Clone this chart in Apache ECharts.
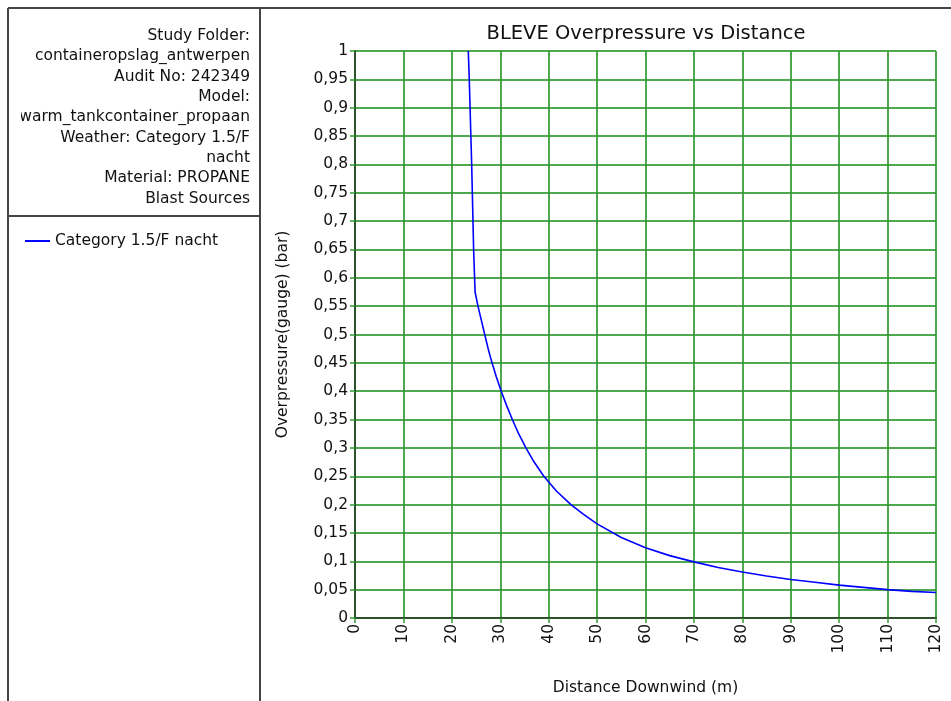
<!DOCTYPE html>
<html>
<head>
<meta charset="utf-8">
<script src="https://cdn.jsdelivr.net/npm/echarts@6/dist/echarts.min.js"></script>
<style>
html,body{margin:0;padding:0;background:#fff;}
#chart{width:951px;height:701px;}
</style>
</head>
<body>
<div id="chart"></div>
<script>
// ---- data ----
const distance = [23.4, 23.6, 24.1, 24.5, 24.8, 25.4, 26.1, 26.8, 27.5, 28.3, 29.2, 30.2, 31.3, 32.5, 33.8, 35.3, 37.0, 39.0, 41.6, 44.6, 47.0, 50, 55, 60, 65, 70, 75, 80, 85, 90, 95, 100, 105, 110, 115, 120];
const overpressure = [1.0, 0.95, 0.8, 0.65, 0.575, 0.55, 0.525, 0.5, 0.475, 0.45, 0.425, 0.4, 0.375, 0.35, 0.325, 0.3, 0.275, 0.25, 0.224, 0.2, 0.184, 0.166, 0.142, 0.124, 0.110, 0.099, 0.089, 0.081, 0.074, 0.068, 0.063, 0.058, 0.054, 0.050, 0.047, 0.045];
const seriesName = 'Category 1.5/F nacht';
const infoLines = ['Study Folder:', 'containeropslag_antwerpen', 'Audit No: 242349', 'Model:', 'warm_tankcontainer_propaan', 'Weather: Category 1.5/F', 'nacht', 'Material: PROPANE', 'Blast Sources'];
const titleText = 'BLEVE Overpressure vs Distance';
const xName = 'Distance Downwind (m)';
const yName = 'Overpressure(gauge) (bar)';

const FONT = 'DejaVu Sans';
const chart = echarts.init(document.getElementById('chart'), null, {renderer: 'canvas'});
const gridColor = '#2f9a2f';
const axisDark = '#2c4f2c';
const frame = '#444';

const graphics = [
  {type: 'line', shape: {x1: 8, y1: 8, x2: 951, y2: 8}, style: {stroke: frame, lineWidth: 2}},
  {type: 'line', shape: {x1: 8, y1: 8, x2: 8, y2: 701}, style: {stroke: frame, lineWidth: 2}},
  {type: 'line', shape: {x1: 260, y1: 8, x2: 260, y2: 701}, style: {stroke: frame, lineWidth: 2}},
  {type: 'line', shape: {x1: 8, y1: 216, x2: 260, y2: 216}, style: {stroke: frame, lineWidth: 2}},
  {type: 'text', x: 250, y: 26, z: 5,
   style: {text: infoLines.join('\n'), font: '15.5px "' + FONT + '"', fill: '#111', align: 'right', verticalAlign: 'top', lineHeight: 20.3}},
  {type: 'rect', shape: {x: 9, y: 100, width: 12, height: 30}, style: {fill: '#fff'}, z: 10}
];

chart.setOption({
  backgroundColor: '#fff',
  animation: false,
  title: {
    text: titleText, left: 641, top: 19, textAlign: 'center',
    textStyle: {fontFamily: FONT, fontSize: 19.5, fontWeight: 'normal', color: '#111'}
  },
  legend: {
    data: [{name: seriesName, icon: 'rect'}],
    left: 20, top: 228, itemWidth: 25, itemHeight: 2, itemGap: 8,
    textStyle: {fontFamily: FONT, fontSize: 15.5, color: '#111'}
  },
  grid: {left: 355, right: 15, top: 51, bottom: 76, containLabel: false},
  xAxis: [{
    type: 'value', min: 0, max: 120, interval: 10,
    name: xName, nameLocation: 'middle', nameGap: 62,
    nameTextStyle: {fontFamily: FONT, fontSize: 15.5, color: '#111'},
    axisLine: {show: true, onZero: false, lineStyle: {color: axisDark, width: 2}},
    axisTick: {show: true, length: 5, lineStyle: {color: gridColor, width: 1.5}},
    axisLabel: {rotate: 90, margin: 6, fontFamily: FONT, fontSize: 15.5, color: '#111'},
    splitLine: {show: true, lineStyle: {color: gridColor, width: 2, opacity: 0.85}}
  }, {
    type: 'value', min: 0, max: 120, position: 'top',
    axisLine: {show: true, lineStyle: {color: axisDark, width: 2}},
    axisTick: {show: false}, axisLabel: {show: false}, splitLine: {show: false}
  }],
  yAxis: [{
    type: 'value', min: 0, max: 1, interval: 0.05,
    name: yName, nameLocation: 'middle', nameGap: 64, nameRotate: 90,
    nameTextStyle: {fontFamily: FONT, fontSize: 15.5, color: '#111'},
    axisLine: {show: true, onZero: false, lineStyle: {color: axisDark, width: 2}},
    axisTick: {show: true, length: 5, lineStyle: {color: gridColor, width: 1.5}},
    axisLabel: {margin: 7, fontFamily: FONT, fontSize: 15.5, color: '#111',
      formatter: v => String(+v.toFixed(2)).replace('.', ',')},
    splitLine: {show: true, lineStyle: {color: gridColor, width: 2, opacity: 0.85}}
  }, {
    type: 'value', min: 0, max: 1, position: 'right',
    axisLine: {show: true, lineStyle: {color: axisDark, width: 2}},
    axisTick: {show: false}, axisLabel: {show: false}, splitLine: {show: false}
  }],
  series: [{
    name: seriesName, type: 'line',
    data: distance.map((d, i) => [d, overpressure[i]]),
    showSymbol: false, smooth: false,
    lineStyle: {color: '#0000ff', width: 1.6},
    itemStyle: {color: '#0000ff'}, z: 5
  }],
  graphic: graphics
});
</script>
</body>
</html>
